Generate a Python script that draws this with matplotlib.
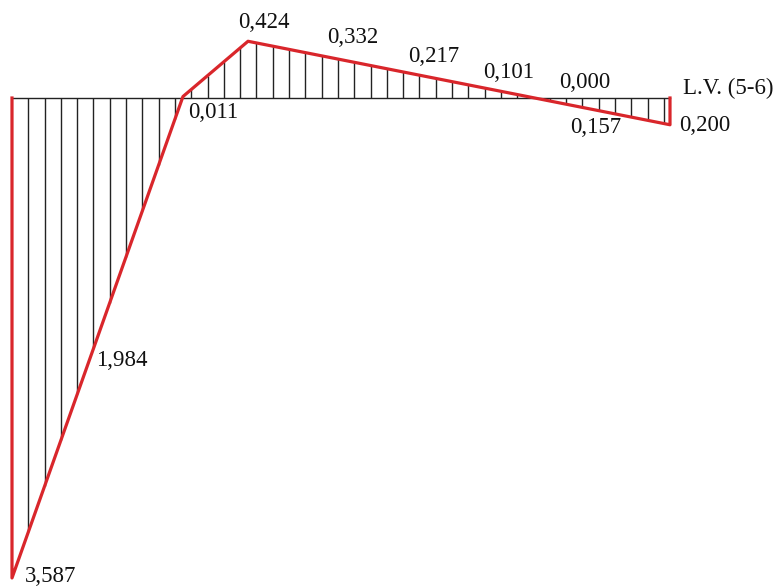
import numpy as np
import matplotlib.pyplot as plt

plt.rcParams['font.family'] = ['Liberation Serif', 'DejaVu Serif']

# influence line vertices (station along beam, ordinate)
line_x = [0.0, 0.0, 10.49, 14.48, 40.37, 40.37]
line_v = [0.0, -3.587, 0.011, 0.424, -0.200, 0.0]

# labelled ordinates
lab_x = [0.0, 4.66, 10.49, 14.48, 18.34, 23.0, 27.8, 32.0, 38.5, 40.37]
lab_v = [-3.587, -1.984, 0.011, 0.424, 0.332, 0.217, 0.101, 0.000, -0.157, -0.200]
# text offsets in pixels (dx, dy)
lab_off = [(13, 1), (8, 3), (5, -16), (-10, 19), (16, 16), (21, 12),
           (18, 12), (26, 16), (-69, -8), (9, -1)]

title = 'L.V. (5-6)'
red = '#d9262b'

fig = plt.figure(figsize=(7.81, 5.86), dpi=100)
ax = fig.add_axes([0, 0, 1, 1])
ax.set_xlim(-0.736, 47.18)
ax.set_ylim(-3.647, 0.7324)
ax.axis('off')

# hatching
hx = np.arange(1, 41)
hy = np.interp(hx, line_x[1:5], line_v[1:5])
ax.vlines(hx, 0, hy, color='#222222', lw=1.0, zorder=1)

# baseline
ax.plot([line_x[0], line_x[-1]], [0, 0], color='#222222', lw=1.0, zorder=2)

# influence line
ax.plot(line_x, line_v, color=red, lw=2.3, solid_joinstyle='round', zorder=3)

for x, v, (dx, dy) in zip(lab_x, lab_v, lab_off):
    s = f'{abs(v):.3f}'.replace('.', ',')
    ax.annotate(s, (x, v), xytext=(dx, dy), textcoords='offset pixels',
                ha='left', va='center', fontsize=16.5, color='#111111')

ax.annotate(title, (line_x[-1], 0), xytext=(13, 10), textcoords='offset pixels',
            ha='left', va='center', fontsize=16.5, color='#111111')

fig.savefig('out.png', dpi=100)
